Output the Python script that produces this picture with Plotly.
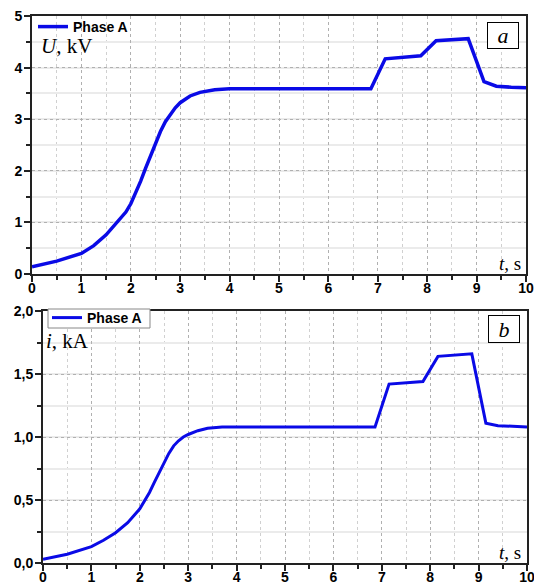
import plotly.graph_objects as go

# ---- data ----
t_u = [0, 0.5, 1.0, 1.25, 1.5, 1.75, 1.9, 2.0, 2.1, 2.2, 2.3, 2.4, 2.5, 2.6, 2.7, 2.8, 2.9, 3.0,
       3.2, 3.4, 3.7, 4.0, 5, 6, 6.86, 7.15, 7.5, 7.87, 8.18, 8.5, 8.83, 9.15, 9.4, 9.7, 10]
u_kv = [0.14, 0.25, 0.40, 0.55, 0.76, 1.02, 1.20, 1.36, 1.57, 1.80, 2.05, 2.30, 2.55, 2.76, 2.95, 3.10,
        3.22, 3.32, 3.45, 3.52, 3.57, 3.59, 3.59, 3.59, 3.59, 4.17, 4.20, 4.23, 4.52, 4.54, 4.56,
        3.73, 3.64, 3.62, 3.61]

t_i = [0, 0.5, 1.0, 1.25, 1.5, 1.75, 2.0, 2.1, 2.2, 2.3, 2.4, 2.5, 2.6, 2.7, 2.8, 2.9, 3.0,
       3.2, 3.4, 3.7, 4.0, 5, 6, 6.86, 7.15, 7.5, 7.85, 8.16, 8.5, 8.86, 9.15, 9.4, 9.7, 10]
i_ka = [0.03, 0.07, 0.13, 0.18, 0.24, 0.32, 0.43, 0.49, 0.56, 0.64, 0.72, 0.80, 0.87, 0.93, 0.97,
        1.00, 1.02, 1.05, 1.07, 1.08, 1.08, 1.08, 1.08, 1.08, 1.42, 1.43, 1.44, 1.64, 1.65, 1.66,
        1.11, 1.09, 1.085, 1.08]

x_ticks = [0, 1, 2, 3, 4, 5, 6, 7, 8, 9, 10]
u_ticks = [0, 1, 2, 3, 4, 5]
i_tickvals = [0, 0.5, 1.0, 1.5, 2.0]
i_ticktext = ["0,0", "0,5", "1,0", "1,5", "2,0"]
series_name = "Phase A"

W, H = 534, 585
BLUE = "#0a0ae6"
SANS = "Liberation Sans, Arial, sans-serif"
SERIF = "Liberation Serif, Times New Roman, serif"

fig = go.Figure()
fig.add_trace(go.Scatter(x=t_u, y=u_kv, mode="lines", name=series_name,
                         line=dict(color=BLUE, width=3.5), xaxis="x", yaxis="y", legend="legend"))
fig.add_trace(go.Scatter(x=t_i, y=i_ka, mode="lines", name=series_name,
                         line=dict(color=BLUE, width=3), xaxis="x2", yaxis="y2", legend="legend2"))

tickfont = dict(family=SANS, size=14, color="black", weight="bold")

def xax(domain, anchor):
    return dict(domain=domain, anchor=anchor, range=[0, 10], tickvals=x_ticks, automargin=False,
                showline=True, linecolor="#222", linewidth=2, mirror=True,
                ticks="outside", ticklen=6, tickwidth=1.5, tickcolor="#222",
                showgrid=True, gridcolor="#b0b0b0", griddash="dot", gridwidth=1,
                zeroline=False, tickfont=tickfont, ticklabelstandoff=-6,
                ticklabeloverflow="allow",
                minor=dict(dtick=0.5, ticks="outside", ticklen=4, tickwidth=1.5, tickcolor="#222",
                           showgrid=True, gridcolor="#d0d0d0", griddash="dot", gridwidth=1))

def yax(domain, anchor, rng, tickvals, ticktext, minor_dtick):
    return dict(domain=domain, anchor=anchor, range=rng, tickvals=tickvals, ticktext=ticktext,
                automargin=False,
                showline=True, linecolor="#222", linewidth=2, mirror=True,
                ticks="outside", ticklen=6, tickwidth=1.5, tickcolor="#222",
                showgrid=True, gridcolor="#b0b0b0", griddash="dot", gridwidth=1,
                zeroline=False, tickfont=tickfont, ticklabelstandoff=-1,
                ticklabeloverflow="allow",
                minor=dict(dtick=minor_dtick, ticks="outside", ticklen=4, tickwidth=1.5, tickcolor="#222",
                           showgrid=True, gridcolor="#ebebeb", griddash="solid", gridwidth=1.5))

def px_x(p):
    return p / W

def px_y(p):
    return 1 - p / H

fig.update_layout(
    width=W, height=H, margin=dict(l=0, r=0, t=0, b=0, autoexpand=False),
    paper_bgcolor="white", plot_bgcolor="white",
    xaxis=xax([px_x(32), px_x(526)], "y"),
    yaxis=yax([px_y(274), px_y(16)], "x", [0, 5], u_ticks, [str(v) for v in u_ticks], 0.5),
    xaxis2=xax([px_x(43), px_x(527)], "y2"),
    yaxis2=yax([px_y(563), px_y(311)], "x2", [0, 2], i_tickvals, i_ticktext, 0.25),
    legend=dict(x=px_x(33), y=px_y(27), xanchor="left", yanchor="middle",
                bgcolor="rgba(255,255,255,0)", borderwidth=0,
                font=dict(family=SANS, size=14, color="black", weight="bold"),
                itemwidth=30, tracegroupgap=0),
    legend2=dict(x=px_x(47), y=px_y(318), xanchor="left", yanchor="middle",
                 bgcolor="rgba(255,255,255,0)", borderwidth=0,
                 font=dict(family=SANS, size=14, color="black", weight="bold"),
                 itemwidth=30, tracegroupgap=0),
    showlegend=True,
    shapes=[dict(type="rect", xref="paper", yref="paper",
                 x0=px_x(48), x1=px_x(150), y0=px_y(328), y1=px_y(309),
                 line=dict(color="#888", width=1), fillcolor="white", layer="above")],
)

ann = []
ann.append(dict(text="<i>U</i>, kV", x=px_x(39), y=px_y(46), xanchor="left", yanchor="middle",
                font=dict(family=SERIF, size=21, color="black")))
ann.append(dict(text="<i>t</i>, s", x=px_x(523), y=px_y(264), xanchor="right", yanchor="middle",
                font=dict(family=SERIF, size=19, color="black")))
ann.append(dict(text="<i>i</i>, kA", x=px_x(44), y=px_y(341), xanchor="left", yanchor="middle",
                font=dict(family=SERIF, size=21, color="black")))
ann.append(dict(text="<i>t</i>, s", x=px_x(523), y=px_y(552), xanchor="right", yanchor="middle",
                font=dict(family=SERIF, size=19, color="black")))
ann.append(dict(text="<i>a</i>", x=px_x(503), y=px_y(35), xanchor="center", yanchor="middle",
                font=dict(family=SERIF, size=22, color="black"),
                bordercolor="black", borderwidth=1, borderpad=1, width=28, height=23, bgcolor="white"))
ann.append(dict(text="<i>b</i>", x=px_x(504), y=px_y(329), xanchor="center", yanchor="middle",
                font=dict(family=SERIF, size=22, color="black"),
                bordercolor="black", borderwidth=1, borderpad=1, width=28, height=24, bgcolor="white"))
for a in ann:
    a.update(xref="paper", yref="paper", showarrow=False)
fig.update_layout(annotations=ann)

fig.write_html("out.html", config={"displayModeBar": False},
               post_script="document.body.style.margin='0px';")
